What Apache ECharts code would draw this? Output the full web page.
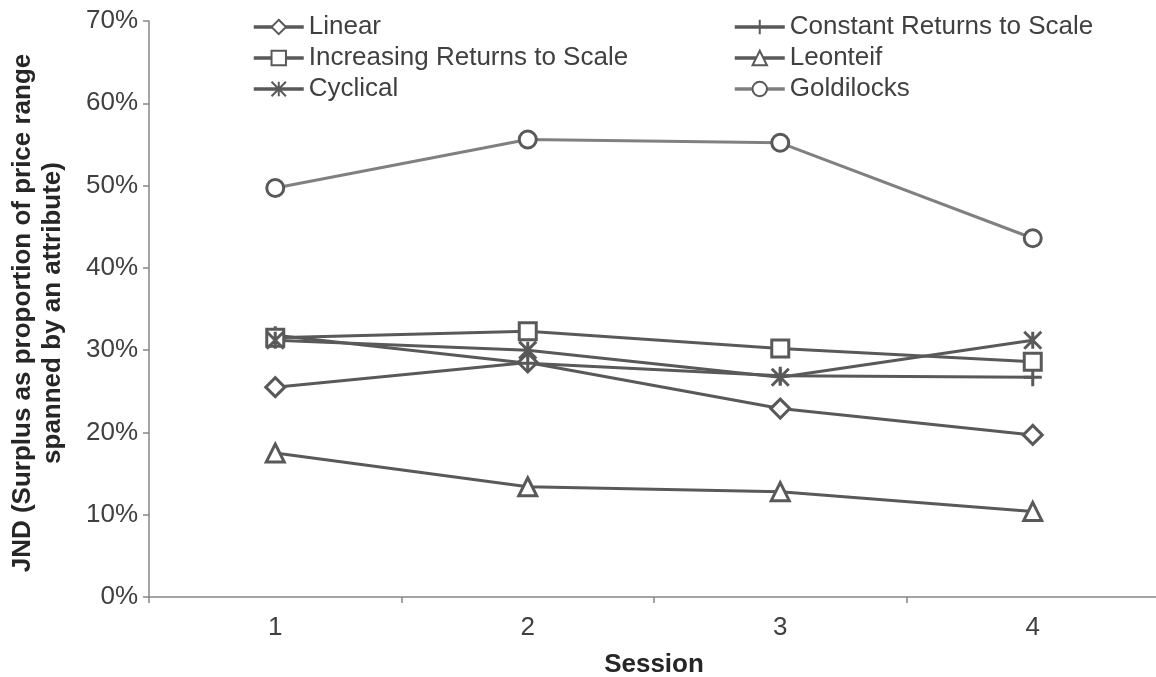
<!DOCTYPE html>
<html>
<head>
<meta charset="utf-8">
<script src="https://cdn.jsdelivr.net/npm/echarts@6/dist/echarts.min.js"></script>
<style>
html,body{margin:0;padding:0;background:#fff;}
#chart{width:1156px;height:677px;}
</style>
</head>
<body>
<div id="chart"></div>
<script>
const categories = ['1', '2', '3', '4'];
const linear = [25.5, 28.5, 22.9, 19.7];
const increasing = [31.5, 32.3, 30.2, 28.6];
const constant = [31.8, 28.4, 26.9, 26.7];
const leonteif = [17.5, 13.4, 12.8, 10.4];
const cyclical = [31.2, 30.0, 26.7, 31.2];
const goldilocks = [49.7, 55.6, 55.2, 43.6];
const seriesNames = ['Linear', 'Constant Returns to Scale', 'Increasing Returns to Scale', 'Leonteif', 'Cyclical', 'Goldilocks'];
const yTitle = 'JND (Surplus as proportion of price range\nspanned by an attribute)';
const xTitle = 'Session';

const FONT = '"Liberation Sans", Arial, sans-serif';
const DARK = '#595959';
const TXT = '#404040';
const PLUS = 'path://M0,5L10,5M5,0L5,10';
const STAR = 'path://M0,0L10,10M10,0L0,10M5,0L5,10';

function mk(name, data, symbol, size, opts) {
  opts = opts || {};
  return {
    name: name,
    type: 'line',
    data: data,
    symbol: symbol,
    symbolSize: size,
    showAllSymbol: true,
    lineStyle: { color: opts.lineColor || DARK, width: 3 },
    itemStyle: { color: '#fff', borderColor: DARK, borderWidth: 3 },
    emphasis: { disabled: true }
  };
}

function legendCfg(names, left) {
  return {
    data: names,
    orient: 'vertical', left: left, top: 9,
    itemWidth: 50, itemHeight: 18, itemGap: 5,
    lineStyle: { width: 3.5 },
    textStyle: { fontSize: 26, color: TXT, fontFamily: FONT, lineHeight: 26 },
    selectedMode: false
  };
}

const chart = echarts.init(document.getElementById('chart'), null, { renderer: 'canvas' });
chart.setOption({
  animation: false,
  backgroundColor: '#fff',
  textStyle: { fontFamily: FONT },
  grid: { left: 149, top: 21, width: 1010, height: 576, containLabel: false, outerBoundsMode: 'none' },
  legend: [
    legendCfg([seriesNames[0], seriesNames[2], seriesNames[4]], 247),
    legendCfg([seriesNames[1], seriesNames[3], seriesNames[5]], 728)
  ],
  xAxis: {
    type: 'category',
    data: categories,
    boundaryGap: true,
    axisLine: { lineStyle: { color: '#868686', width: 1.5 } },
    axisTick: { show: true, length: 6, lineStyle: { color: '#868686', width: 1.5 } },
    axisLabel: { fontSize: 26, color: TXT, margin: 18, fontFamily: FONT },
    name: xTitle,
    nameLocation: 'middle',
    nameGap: 55,
    nameTextStyle: { fontSize: 26, fontWeight: 'bold', color: '#262626', fontFamily: FONT }
  },
  yAxis: {
    type: 'value',
    min: 0, max: 70, interval: 10,
    splitLine: { show: false },
    axisLine: { show: true, lineStyle: { color: '#868686', width: 1.5 } },
    axisTick: { show: true, length: 6, lineStyle: { color: '#868686', width: 1.5 } },
    axisLabel: { fontSize: 26, color: TXT, margin: 11, formatter: '{value}%', fontFamily: FONT }
  },
  graphic: [{
    type: 'text',
    x: 38, y: 313,
    rotation: Math.PI / 2,
    style: {
      text: yTitle,
      fontSize: 26, fontWeight: 'bold', fill: '#262626', fontFamily: FONT,
      align: 'center', verticalAlign: 'middle', lineHeight: 30
    }
  }],
  series: [
    mk(seriesNames[0], linear, 'diamond', 19),
    mk(seriesNames[1], constant, PLUS, 18),
    mk(seriesNames[2], increasing, 'rect', 17),
    mk(seriesNames[3], leonteif, 'triangle', 18),
    mk(seriesNames[4], cyclical, STAR, 17),
    mk(seriesNames[5], goldilocks, 'circle', 17, { lineColor: '#808080' })
  ]
});
</script>
</body>
</html>
